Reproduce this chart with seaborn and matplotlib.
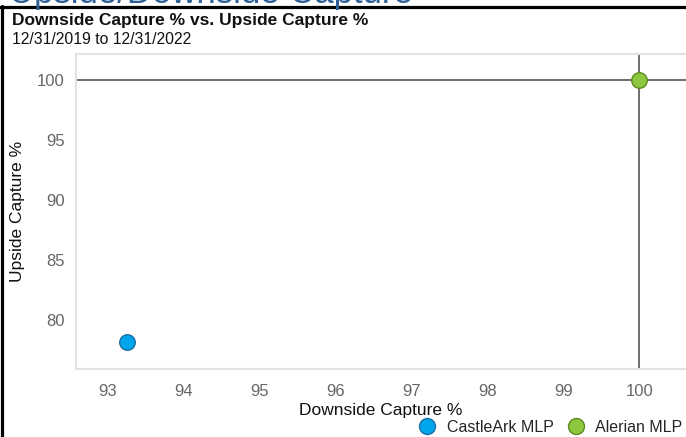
import matplotlib
matplotlib.use("Agg")
import matplotlib.pyplot as plt
from matplotlib.lines import Line2D
import seaborn as sns
import pandas as pd

# Data
series = ["CastleArk MLP", "Alerian MLP"]
downside_capture = [93.25, 100.0]
upside_capture = [78.15, 100.0]
colors = ["#00A6EC", "#8DC63F"]
edge_colors = ["#1D6FA5", "#5E8A1F"]
x_ticks = [93, 94, 95, 96, 97, 98, 99, 100]
y_ticks = [80, 85, 90, 95, 100]

sns.set_theme(style="white")
plt.rcParams["font.family"] = ["Liberation Sans", "DejaVu Sans"]

W, H = 686, 437
fig = plt.figure(figsize=(W / 100, H / 100), dpi=100)

left, right, top, bottom = 76, 686, 54, 369
ax = fig.add_axes([left / W, 1 - bottom / H, (right - left) / W, (bottom - top) / H])

df = pd.DataFrame({"Downside": downside_capture, "Upside": upside_capture, "Series": series})

# crosshair lines
ax.axvline(100, color="#555555", lw=1.2, zorder=1)
ax.axhline(100, color="#555555", lw=1.2, zorder=1)

for name, c, ec in zip(series, colors, edge_colors):
    sub = df[df["Series"] == name]
    sns.scatterplot(data=sub, x="Downside", y="Upside", ax=ax, color=c,
                    edgecolor=ec, linewidth=1.0, s=125, zorder=3, legend=False)

ax.set_xlim(92.578, 100.615)
ax.set_ylim(75.917, 102.167)
ax.set_xticks(x_ticks)
ax.set_yticks(y_ticks)
ax.tick_params(axis="both", colors="#dddddd", labelcolor="#666666", labelsize=12,
               length=5, width=1, direction="out")
ax.tick_params(axis="x", pad=6)
ax.tick_params(axis="y", pad=3)
for s in ["left", "bottom", "top"]:
    ax.spines[s].set_color("#e2e2e2")
    ax.spines[s].set_linewidth(1.5)
ax.spines["right"].set_visible(False)
ax.grid(False)

ax.set_xlabel("Downside Capture %", fontsize=12.5, color="#111111", labelpad=3)
ax.set_ylabel("Upside Capture %", fontsize=12.5, color="#111111", labelpad=9)

# titles
fig.text(12 / W, 1 - 20 / H, "Downside Capture % vs. Upside Capture %", fontsize=12.5,
         fontweight="bold", color="#111111", va="center", ha="left")
fig.text(12 / W, 1 - 40 / H, "12/31/2019 to 12/31/2022", fontsize=11.3,
         color="#111111", va="center", ha="left")
fig.text(9 / W, 1 - 3 / H, "Upside/Downside Capture", fontsize=25,
         color="#2B5F95", va="baseline", ha="left")

# black frame
fig.add_artist(Line2D([1.5 / W, 1.5 / W], [0, 1 - 6 / H], color="black", lw=2.3,
                      transform=fig.transFigure))
fig.add_artist(Line2D([0, 1], [1 - 7 / H, 1 - 7 / H], color="black", lw=2.3,
                      transform=fig.transFigure))

# legend
handles = [Line2D([], [], marker="o", ls="", markersize=11.5, markerfacecolor=c,
                  markeredgecolor=ec, markeredgewidth=1.0) for c, ec in zip(colors, edge_colors)]
fig.legend(handles, series, loc="center", bbox_to_anchor=(550 / W, 1 - 427 / H), ncol=2,
           frameon=False, fontsize=11.5, handletextpad=0.6, columnspacing=0.8,
           handlelength=1.2)

fig.savefig("out.png", dpi=100)
